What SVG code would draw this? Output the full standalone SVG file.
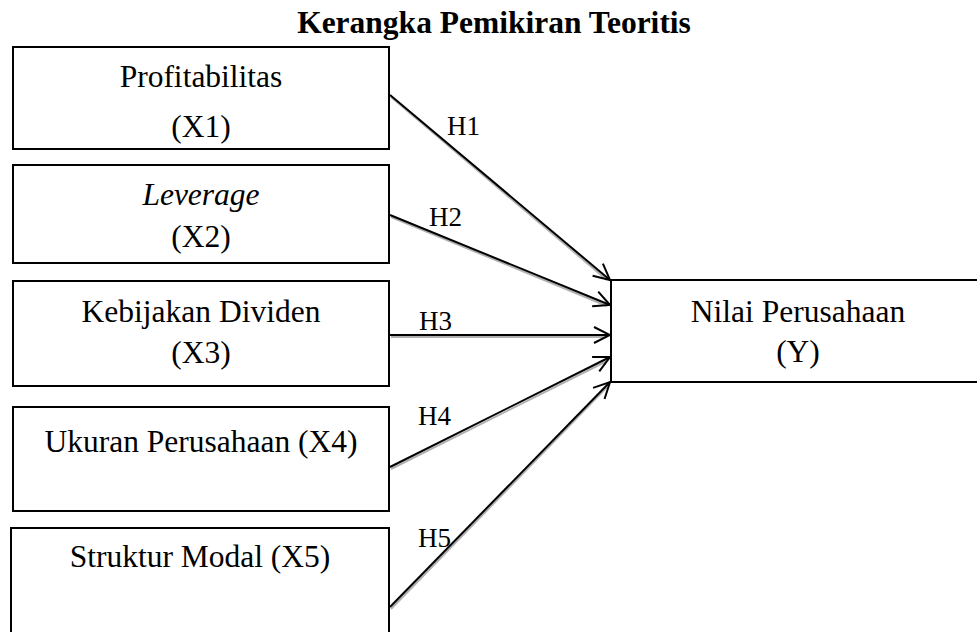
<svg xmlns="http://www.w3.org/2000/svg" width="977" height="632" viewBox="0 0 977 632">
<style>
.box{fill:#fff;stroke:#000;stroke-width:2}
.t{font-family:"Liberation Serif","Times New Roman",serif;font-size:31.5px;fill:#000;text-anchor:middle}
.h{font-family:"Liberation Serif","Times New Roman",serif;font-size:27px;fill:#000}
.title{font-family:"Liberation Serif","Times New Roman",serif;font-size:31.5px;font-weight:bold;fill:#000;text-anchor:middle}
.ln{stroke:#000;stroke-width:2;fill:none;marker-end:url(#arr)}
.sh{stroke:#b0b0b0;stroke-width:2;fill:none}
</style>
<defs>
<marker id="arr" viewBox="0 0 20 20" refX="19" refY="10" markerWidth="20" markerHeight="20" markerUnits="userSpaceOnUse" orient="auto">
<path d="M3,2 L19,10 L3,18" fill="none" stroke="#000" stroke-width="2"/>
</marker>
</defs>
<rect width="977" height="632" fill="#fff"/>
<text class="title" x="494" y="33">Kerangka Pemikiran Teoritis</text>

<g id="x1"><rect class="box" x="13" y="47" width="376" height="102"/>
<text class="t" x="201" y="87">Profitabilitas</text><text class="t" x="201" y="137">(X1)</text></g>
<g id="x2"><rect class="box" x="13" y="165" width="376" height="98"/>
<text class="t" x="201" y="205" font-style="italic">Leverage</text><text class="t" x="201" y="247">(X2)</text></g>
<g id="x3"><rect class="box" x="13" y="281" width="376" height="105"/>
<text class="t" x="201" y="322">Kebijakan Dividen</text><text class="t" x="201" y="363">(X3)</text></g>
<g id="x4"><rect class="box" x="13" y="407" width="376" height="104"/>
<text class="t" x="201" y="452">Ukuran Perusahaan (X4)</text></g>
<g id="x5"><rect class="box" x="11" y="528" width="378" height="120"/>
<text class="t" x="200" y="567">Struktur Modal (X5)</text></g>
<g id="y"><rect class="box" x="611" y="280" width="380" height="102"/>
<text class="t" x="798" y="322">Nilai Perusahaan</text><text class="t" x="798" y="362">(Y)</text></g>

<g id="connectors">
<g transform="translate(1,2)">
<line class="sh" x1="390" y1="95" x2="606" y2="278"/>
<line class="sh" x1="390" y1="215" x2="606" y2="304"/>
<line class="sh" x1="390" y1="335" x2="606" y2="335"/>
<line class="sh" x1="390" y1="467" x2="606" y2="359"/>
<line class="sh" x1="390" y1="607" x2="606" y2="385"/>
</g>
<line class="ln" x1="390" y1="95" x2="610" y2="280"/>
<line class="ln" x1="390" y1="215" x2="610" y2="305"/>
<line class="ln" x1="390" y1="335" x2="610" y2="335"/>
<line class="ln" x1="390" y1="467" x2="610" y2="357"/>
<line class="ln" x1="390" y1="607" x2="610" y2="382"/>
<text class="h" x="447" y="135">H1</text>
<text class="h" x="429" y="226">H2</text>
<text class="h" x="419" y="330">H3</text>
<text class="h" x="418" y="425">H4</text>
<text class="h" x="418" y="547">H5</text>
</g>
</svg>
